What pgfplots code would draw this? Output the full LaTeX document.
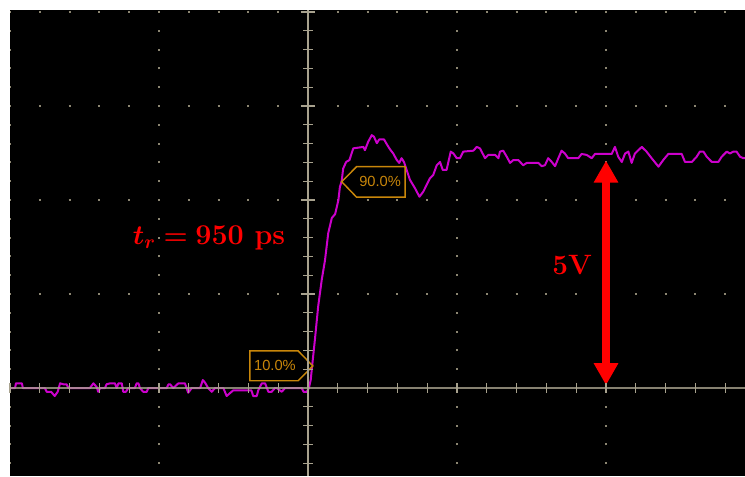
\documentclass[border=0pt]{standalone}
\usepackage{pgfplots}
\pgfplotsset{compat=1.18}
\usepackage{fontspec}
\usepackage{bm}
\usetikzlibrary{arrows.meta}
\newfontfamily\scopefont{Liberation Sans}
\definecolor{gridcol}{HTML}{8C8672}
\definecolor{axiscol}{HTML}{A8A28E}
\definecolor{trace}{HTML}{CC00CC}
\definecolor{cursor}{HTML}{C8860A}

\begin{document}
\begin{tikzpicture}
% white margin on the top and left, as in the screen capture
\fill[white] (-7.5pt,0pt) rectangle (551.25pt,357pt);
\begin{axis}[
    width=551.25pt, height=349.5pt, scale only axis,
    xmin=-10, xmax=14.664,   % ns, 5 ns/div
    ymin=-1.872, ymax=8.043, % V, 2 V/div
    axis background/.style={fill=black},
    axis lines=middle, axis on top,
    axis line style={axiscol, line width=1.5pt, -},
    x axis line style={opacity=0.8},
    scaled ticks=false,
    xtick={-10,-9,...,14}, xticklabels={},
    ytick={-1.6,-1.2,-0.8,-0.4,0.4,0.8,1.2,1.6,2.4,2.8,3.2,3.6,4.4,4.8,5.2,5.6,6.4,6.8,7.2,7.6},
    yticklabels={},
    extra y ticks={2,4,6,8}, extra y tick labels={},
    extra y tick style={major tick length=11pt, major tick style={line width=1.2pt}},
    tick align=center,
    major tick length=7pt,
    tick style={axiscol, line width=1pt},
]
% graticule dots
\pgfplotsinvokeforeach{-10,-5,5,10}{
    \draw[gridcol, line width=1.5pt, dash pattern=on 1.5pt off 12.6pt, dash phase=0.75pt]
        (axis cs:#1,-2) -- (axis cs:#1,8.4);
}
\pgfplotsinvokeforeach{2,4,6,8}{
    \draw[gridcol, line width=1.5pt, dash pattern=on 1.5pt off 20.85pt, dash phase=0.75pt]
        (axis cs:-11,#1) -- (axis cs:15,#1);
}

\addplot[trace, line width=1.5pt, mark=none, line join=round] coordinates {
    (-10,0) (-9.83,0) (-9.8,0.1) (-9.6,0.1) (-9.57,0) (-8.83,0) (-8.77,-0.08)
    (-8.62,-0.08) (-8.5,-0.17) (-8.4,-0.08) (-8.32,0.1) (-8.21,0.08) (-8.1,0.08)
    (-8.04,0) (-7.32,0) (-7.2,0.1) (-7.09,0.02) (-7.04,-0.08) (-6.98,0) (-6.81,0)
    (-6.76,0.08) (-6.64,0.1) (-6.48,0.1) (-6.42,0) (-6.36,0.1) (-6.25,0.1)
    (-6.2,-0.08) (-6.11,-0.08) (-6.03,0) (-5.81,0) (-5.75,0.1) (-5.69,0.1)
    (-5.64,0) (-5.53,-0.08) (-5.41,-0.08) (-5.36,0) (-4.74,0) (-4.68,0.08)
    (-4.63,0.08) (-4.52,0) (-4.35,0.1) (-4.13,0.1) (-4.02,-0.1) (-3.9,0) (-3.62,0)
    (-3.53,0.17) (-3.46,0.12) (-3.35,0) (-3.23,-0.08) (-3.12,0) (-2.84,0)
    (-2.73,-0.17) (-2.62,-0.11) (-2.51,-0.05) (-1.9,-0.05) (-1.84,-0.17)
    (-1.72,-0.17) (-1.67,-0.05) (-1.55,0.1) (-1.44,0.1) (-1.33,-0.08) (-1.22,-0.08)
    (-1.11,0) (-1.05,0) (-0.88,-0.08) (-0.77,0) (-0.21,0) (-0.15,-0.08)
    (-0.04,-0.08) (0.03,0)
    (0.09,0.17) (0.16,0.60) (0.23,1.02) (0.34,1.73) (0.46,2.30) (0.57,2.72)
    (0.68,3.30) (0.80,3.62) (0.91,3.70) (1.02,4.0) (1.07,4.28) (1.13,4.40)
    (1.18,4.67) (1.28,4.81) (1.39,4.85) (1.52,5.10) (1.86,5.13) (1.91,5.06)
    (2.02,5.24) (2.14,5.38) (2.21,5.35) (2.31,5.21) (2.39,5.29) (2.55,5.29)
    (2.66,5.17) (2.75,5.08) (2.86,4.99) (2.98,4.85) (3.06,4.79) (3.14,4.89)
    (3.22,4.81) (3.31,4.64) (3.42,4.43) (3.59,4.25) (3.74,4.07) (3.87,4.18)
    (3.98,4.32) (4.09,4.46) (4.20,4.53) (4.32,4.74) (4.43,4.81) (4.52,4.64)
    (4.65,4.64) (4.71,4.81) (4.79,5.03) (4.88,4.99) (4.99,4.89) (5.10,4.89)
    (5.21,5.03) (5.55,5.05) (5.66,5.13) (5.77,5.10) (5.94,4.89) (6.05,4.96)
    (6.28,4.96) (6.39,4.89) (6.44,5.03) (6.55,5.05) (6.67,4.92) (6.78,4.79)
    (6.89,4.85) (7.06,4.85) (7.22,4.74) (7.34,4.79) (7.73,4.79) (7.84,4.72)
    (7.95,4.74) (8.06,4.89) (8.18,4.81) (8.29,4.72) (8.40,4.89) (8.51,5.05)
    (8.62,4.99) (8.73,4.89) (9.07,4.89) (9.18,4.98) (9.35,4.96) (9.52,4.89)
    (9.63,4.98) (10.19,4.98) (10.30,5.13) (10.41,4.92) (10.53,4.81) (10.64,4.99)
    (10.75,5.03) (10.86,4.79) (10.97,4.99) (11.20,5.13) (11.36,5.03) (11.53,4.89)
    (11.76,4.71) (11.92,4.85) (12.09,4.98) (12.54,4.98) (12.65,4.81) (12.88,4.81)
    (13.04,4.92) (13.15,5.03) (13.27,5.03) (13.38,4.92) (13.55,4.81) (13.77,4.81)
    (13.88,4.92) (14.05,5.03) (14.16,4.99) (14.27,5.03) (14.38,5.03) (14.50,4.92)
    (14.61,4.89) (14.66,4.89)
};

% 10 % and 90 % cursor flags
\draw[cursor, line width=1.1pt, fill=black]
    (axis cs:-1.95,0.155) -- (axis cs:-1.95,0.79) -- (axis cs:-0.33,0.79)
    -- (axis cs:0.16,0.47) -- (axis cs:-0.33,0.155) -- cycle;
\node[cursor, font=\scopefont\fontsize{11}{11}\selectfont] at (axis cs:-1.11,0.47) {10.0\%};
\draw[cursor, line width=1.1pt, fill=black]
    (axis cs:1.13,4.39) -- (axis cs:1.63,4.71) -- (axis cs:3.26,4.71)
    -- (axis cs:3.26,4.06) -- (axis cs:1.63,4.06) -- cycle;
\node[cursor, font=\scopefont\fontsize{11}{11}\selectfont] at (axis cs:2.42,4.39) {90.0\%};

% amplitude arrow and annotations
\draw[red, line width=5.6pt,
      {Triangle[width=17.3pt,length=16.5pt]}-{Triangle[width=17.3pt,length=16.5pt]}]
    (axis cs:10,0.06) -- (axis cs:10,4.84);
\node[red, font=\bfseries\fontsize{21}{21}\selectfont] at (axis cs:8.86,2.62) {5V};
\node[red, font=\bfseries\fontsize{21.5}{21.5}\selectfont] at (axis cs:-3.32,3.2)
    {$\bm{t_r}\bm{=}\mbox{\bfseries 950 ps}$};
\end{axis}
\pgfresetboundingbox
\path (-7.5pt,0pt) rectangle (551.25pt,357pt);
\end{tikzpicture}
\end{document}
